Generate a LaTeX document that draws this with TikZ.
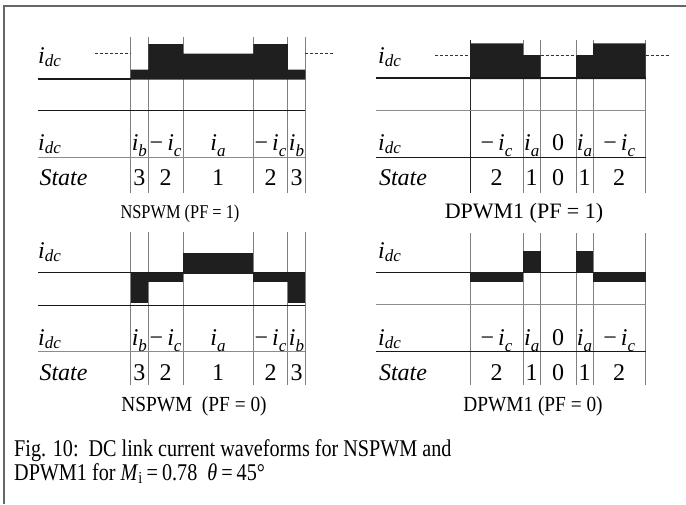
\documentclass[tikz,border=0pt]{standalone}
\usepackage{fontspec}
\setmainfont{Liberation Serif}
\newfontfamily\narrowfont[FakeStretch=0.84]{Liberation Serif}
\newfontfamily\semifont[FakeStretch=0.9]{Liberation Serif}
\newcommand\ivar[2]{\textit{i}\raisebox{-#2pt}{\fontsize{17}{17}\selectfont\textit{#1}}}
\newcommand\mivar[2]{−\,\ivar{#1}{#2}}
\tikzset{
  frame/.style={draw=black!60, line width=2pt},
  vline/.style={draw=black!50, line width=0.8pt},
  vlineb/.style={draw=black!85, line width=0.8pt},
  hline/.style={draw=black!90, line width=0.8pt},
  hlineg/.style={draw=black!45, line width=0.8pt},
  wave/.style={fill=black!88},
  basethick/.style={draw=black!90, line width=2pt},
  basethin/.style={draw=black!90, line width=1.5pt},
  refline/.style={draw=black!80, dash pattern=on 3pt off 2pt, line width=0.6pt},
  lab/.style={font=\fontsize{24}{24}\selectfont, inner sep=0pt, anchor=base},
  ptitle/.style={inner sep=0pt, anchor=base},
}
\begin{document}
\begin{tikzpicture}[x=1pt,y=-1pt]
\useasboundingbox (0,0) rectangle (686,504);
% frame (only top and left edges visible)
\draw[frame] (686,5.5) -- (3.7,5.5) -- (3.7,504);

% ---------------- Panel 1: NSPWM (PF = 1) ----------------
\foreach \x in {130.5,148.3,183,253.3,287.8,305.3} \draw[vline] (\x,37) -- (\x,193);
\fill[wave] (130.5,79.5) -- (130.5,69.5) -- (148.3,69.5) -- (148.3,44) -- (183,44) -- (183,53.5)
  -- (253.3,53.5) -- (253.3,44) -- (287.8,44) -- (287.8,69.5) -- (305.3,69.5) -- (305.3,79.5) -- cycle;
\draw[basethick] (38,78.7) -- (130.5,78.7);
\draw[refline] (95,53.3) -- (130.5,53.3);
\draw[refline] (305.3,53.3) -- (335,53.3);
\draw[hline] (38,110) -- (305.3,110);
\draw[hlineg] (38,157) -- (305.3,157);
\node[lab] (p1a) at (49.5,63) {\ivar{dc}{3}};
\node[lab] (p1b) at (49.5,150) {\ivar{dc}{3}};
\node[lab] (p1c) at (63.5,185) {\textit{State}};
\node[lab] (p1r1) at (139.4,150) {\ivar{b}{6}};
\node[lab] (p1r2) at (165.6,150) {\mivar{c}{6}};
\node[lab] (p1r3) at (218,150) {\ivar{a}{6}};
\node[lab] (p1r4) at (270.5,150) {\mivar{c}{6}};
\node[lab] (p1r5) at (296.5,150) {\ivar{b}{6}};
\node[lab] (p1s1) at (139.4,185) {3};
\node[lab] (p1s2) at (165.6,185) {2};
\node[lab] (p1s3) at (218,185) {1};
\node[lab] (p1s4) at (270.5,185) {2};
\node[lab] (p1s5) at (296.5,185) {3};
\node[ptitle, font=\narrowfont\fontsize{19.5}{19.5}\selectfont] (p1t) at (180,218) {NSPWM (PF = 1)};

% ---------------- Panel 2: DPWM1 (PF = 1) ----------------
\draw[vlineb] (470,40) -- (470,193);
\foreach \x in {523,540.5,576,593,645.5} \draw[vline] (\x,40) -- (\x,193);
\fill[wave] (470,79) -- (470,43.3) -- (523,43.3) -- (523,55) -- (540.5,55) -- (540.5,79) -- cycle;
\fill[wave] (576,79) -- (576,55) -- (593,55) -- (593,43.3) -- (645.5,43.3) -- (645.5,79) -- cycle;
\draw[basethick] (376,78.3) -- (645.5,78.3);
\draw[refline] (435,55) -- (470,55);
\draw[refline] (540.5,55) -- (576,55);
\draw[refline] (645.5,55) -- (670,55);
\draw[hlineg] (376,110) -- (645.5,110);
\draw[hline] (376,157) -- (645.5,157);
\node[lab] (p2a) at (389.5,63) {\ivar{dc}{3}};
\node[lab] (p2b) at (389.5,150) {\ivar{dc}{3}};
\node[lab] (p2c) at (403,185) {\textit{State}};
\node[lab] (p2r1) at (496.5,150) {\mivar{c}{6}};
\node[lab] (p2r2) at (531.7,150) {\ivar{a}{6}};
\node[lab] (p2r3) at (558.2,150) {0};
\node[lab] (p2r4) at (584.5,150) {\ivar{a}{6}};
\node[lab] (p2r5) at (619.2,150) {\mivar{c}{6}};
\node[lab] (p2s1) at (496.5,185) {2};
\node[lab] (p2s2) at (531.7,185) {1};
\node[lab] (p2s3) at (558.2,185) {0};
\node[lab] (p2s4) at (584.5,185) {1};
\node[lab] (p2s5) at (619.2,185) {2};
\node[ptitle, font=\fontsize{22}{22}\selectfont] (p2t) at (524,218) {DPWM1 (PF = 1)};

% ---------------- Panel 3: NSPWM (PF = 0) ----------------
\begin{scope}[shift={(0,195)}]
\foreach \x in {130.5,148.3,183,253.3,287.8,305.3} \draw[vline] (\x,37) -- (\x,190);
\draw[basethin] (38,77.7) -- (305.3,77.7);
\fill[wave] (130.5,77.7) rectangle (148.3,107.7);
\fill[wave] (148.3,77.7) rectangle (183,87.3);
\fill[wave] (183,57.7) rectangle (253.3,78.5);
\fill[wave] (253.3,77.7) rectangle (287.8,87.3);
\fill[wave] (287.8,77.7) rectangle (305.3,107.7);
\draw[hline] (38,110) -- (305.3,110);
\draw[hlineg] (38,156) -- (305.3,156);
\node[lab] (p3a) at (49.5,63) {\ivar{dc}{3}};
\node[lab] (p3b) at (49.5,150) {\ivar{dc}{3}};
\node[lab] (p3c) at (63.5,185) {\textit{State}};
\node[lab] (p3r1) at (139.4,150) {\ivar{b}{6}};
\node[lab] (p3r2) at (165.6,150) {\mivar{c}{6}};
\node[lab] (p3r3) at (218,150) {\ivar{a}{6}};
\node[lab] (p3r4) at (270.5,150) {\mivar{c}{6}};
\node[lab] (p3r5) at (296.5,150) {\ivar{b}{6}};
\node[lab] (p3s1) at (139.4,185) {3};
\node[lab] (p3s2) at (165.6,185) {2};
\node[lab] (p3s3) at (218,185) {1};
\node[lab] (p3s4) at (270.5,185) {2};
\node[lab] (p3s5) at (296.5,185) {3};
\node[ptitle, font=\semifont\fontsize{21.5}{21.5}\selectfont] (p3t) at (194,216) {NSPWM\ \ (PF = 0)};
\end{scope}

% ---------------- Panel 4: DPWM1 (PF = 0) ----------------
\begin{scope}[shift={(0,195)}]
\foreach \x in {470,523,540.5,576,593,645.5} \draw[vline] (\x,38) -- (\x,190);
\draw[basethin] (376,77.3) -- (645.5,77.3);
\fill[wave] (470,77.3) rectangle (523,87.3);
\fill[wave] (523,56) rectangle (540.5,78);
\fill[wave] (576,56) rectangle (593,78);
\fill[wave] (593,77.3) rectangle (645.5,87.3);
\draw[hlineg] (376,109.3) -- (645.5,109.3);
\draw[hline] (376,156) -- (645.5,156);
\node[lab] (p4a) at (389.5,63) {\ivar{dc}{3}};
\node[lab] (p4b) at (389.5,150) {\ivar{dc}{3}};
\node[lab] (p4c) at (403,185) {\textit{State}};
\node[lab] (p4r1) at (496.5,150) {\mivar{c}{6}};
\node[lab] (p4r2) at (531.7,150) {\ivar{a}{6}};
\node[lab] (p4r3) at (558.2,150) {0};
\node[lab] (p4r4) at (584.5,150) {\ivar{a}{6}};
\node[lab] (p4r5) at (619.2,150) {\mivar{c}{6}};
\node[lab] (p4s1) at (496.5,185) {2};
\node[lab] (p4s2) at (531.7,185) {1};
\node[lab] (p4s3) at (558.2,185) {0};
\node[lab] (p4s4) at (584.5,185) {1};
\node[lab] (p4s5) at (619.2,185) {2};
\node[ptitle, font=\semifont\fontsize{21.5}{21.5}\selectfont] (p4t) at (533,216) {DPWM1 (PF = 0)};
\end{scope}

% ---------------- Figure caption ----------------
\node[inner sep=0pt, anchor=base west, align=left, font=\narrowfont\fontsize{24}{23.3}\selectfont] (cap) at (14,480)
  {Fig. 10:\ \ DC link current waveforms for NSPWM and\\
   DPWM1 for \textit{M}\textsubscript{i}\,=\,0.78\ \ \textit{θ}\,=\,45°};
\end{tikzpicture}
\end{document}
